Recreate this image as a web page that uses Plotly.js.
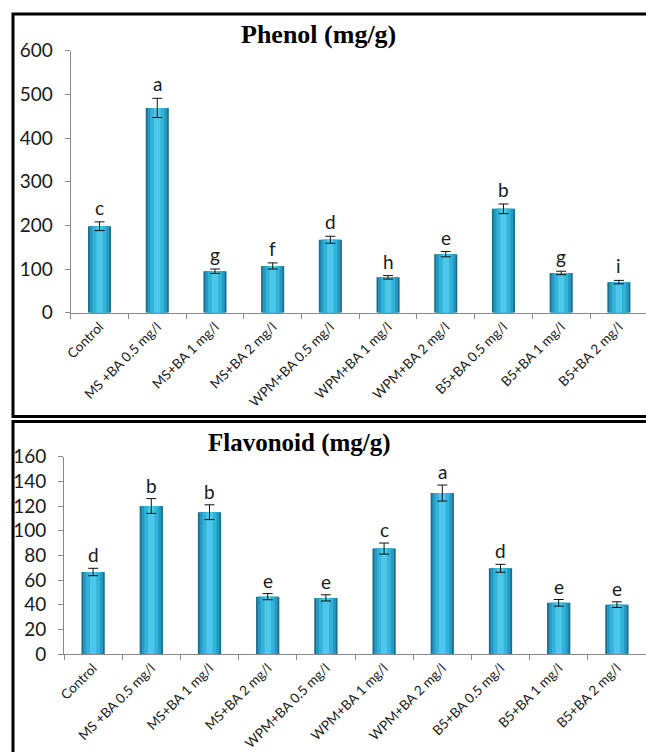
<!DOCTYPE html>
<html>
<head>
<meta charset="utf-8">
<script src="https://cdn.plot.ly/plotly-3.0.1.min.js"></script>
<style>
html,body{margin:0;padding:0;background:#fff;}
#chart{width:646px;height:752px;}
</style>
</head>
<body>
<div id="chart"></div>
<script>
// ---- data ----
const categories = ['Control','MS +BA 0.5 mg/l','MS+BA 1 mg/l','MS+BA 2 mg/l','WPM+BA 0.5 mg/l','WPM+BA 1 mg/l','WPM+BA 2 mg/l','B5+BA 0.5 mg/l','B5+BA 1 mg/l','B5+BA 2 mg/l'];
const phenol = [198, 469, 95, 107, 167, 81, 134, 238, 91, 70];
const phenolErr = [10, 22, 5, 7, 8, 4, 6, 11, 4, 4];
const phenolLetters = ['c','a','g','f','d','h','e','b','g','i'];
const flavonoid = [66.5, 120, 115, 46.5, 45.5, 85.5, 130.5, 69.5, 41.5, 40];
const flavonoidErr = [3, 6, 6, 2.5, 2.5, 4.5, 6.5, 3.2, 2.7, 2.3];
const flavonoidLetters = ['d','b','b','e','e','c','a','d','e','e'];
const titles = ['Phenol (mg/g)', 'Flavonoid (mg/g)'];

// ---- styling ----
const W = 646, H = 752;
const px = v => v / W;
const py = v => (H - v) / H;
const layers = [
  {w: 0.40, c: '#1b6f8c'},
  {w: 0.34, c: '#2599bf'},
  {w: 0.24, c: '#33b3da'},
  {w: 0.11, c: '#4cc9ea'}
];

function barTraces(vals, errs, xa, ya) {
  return layers.map((l, i) => ({
    type: 'bar', x: categories, y: vals, xaxis: xa, yaxis: ya,
    width: l.w, marker: {color: l.c, line: {width: 0}},
    hoverinfo: 'skip', showlegend: false,
    error_y: i === layers.length - 1 ? {type: 'data', array: errs, visible: true, color: '#111', thickness: 1, width: 5} : {visible: false}
  }));
}

const data = [].concat(
  barTraces(phenol, phenolErr, 'x', 'y'),
  barTraces(flavonoid, flavonoidErr, 'x2', 'y2')
);

const tickFont = {family: 'Lato, "Open Sans", sans-serif', size: 19, color: '#1a1a1a'};
const catFont = {family: 'Lato, "Open Sans", sans-serif', size: 13.5, color: '#1a1a1a'};
const letterFont = {family: 'Lato, "Open Sans", sans-serif', size: 19, color: '#1a1a1a'};
const xBase = {
  type: 'category', showline: true, linecolor: '#8a8a8a', linewidth: 1,
  ticks: 'outside', tickson: 'boundaries', ticklen: 5, tickcolor: '#8a8a8a',
  tickangle: -45, tickfont: catFont, showgrid: false, zeroline: false, fixedrange: true
};
const yBase = {
  showline: true, linecolor: '#8a8a8a', linewidth: 1,
  ticks: 'outside', ticklen: 5, tickcolor: '#8a8a8a', ticklabelstandoff: 8,
  tickfont: tickFont, showgrid: false, zeroline: false, fixedrange: true
};

const annotations = [];
categories.forEach((c, i) => {
  annotations.push({x: c, y: phenol[i] + phenolErr[i], xref: 'x', yref: 'y', text: phenolLetters[i],
    showarrow: false, yanchor: 'bottom', yshift: 1, font: letterFont});
  annotations.push({x: c, y: flavonoid[i] + flavonoidErr[i], xref: 'x2', yref: 'y2', text: flavonoidLetters[i],
    showarrow: false, yanchor: 'bottom', yshift: 0, font: letterFont});
});
annotations.push({xref: 'paper', yref: 'paper', x: px(318.5), y: py(34), text: '<b>' + titles[0] + '</b>',
  showarrow: false, xanchor: 'center', yanchor: 'middle', font: {family: '"Liberation Serif", "Times New Roman", serif', size: 26, color: '#000'}});
annotations.push({xref: 'paper', yref: 'paper', x: px(299), y: py(443), text: '<b>' + titles[1] + '</b>',
  showarrow: false, xanchor: 'center', yanchor: 'middle', font: {family: '"Liberation Serif", "Times New Roman", serif', size: 25, color: '#000'}});

const layout = {
  width: W, height: H,
  margin: {l: 0, r: 0, t: 0, b: 0, pad: 0},
  paper_bgcolor: '#fff', plot_bgcolor: 'rgba(0,0,0,0)',
  barmode: 'overlay', showlegend: false,
  xaxis: Object.assign({}, xBase, {domain: [px(70.7), 1], range: [-0.5, 9.47], anchor: 'y'}),
  yaxis: Object.assign({}, yBase, {domain: [py(312.7), py(50.7)], range: [0, 600], dtick: 100, anchor: 'x'}),
  xaxis2: Object.assign({}, xBase, {domain: [px(64), 1], range: [-0.5, 9.5], anchor: 'y2'}),
  yaxis2: Object.assign({}, yBase, {domain: [py(654), py(456.7)], range: [0, 160], dtick: 20, anchor: 'x2'}),
  annotations: annotations,
  shapes: [
    {type: 'rect', xref: 'paper', yref: 'paper', x0: px(13), x1: px(660), y0: py(416.5), y1: py(14), line: {color: '#000', width: 3}},
    {type: 'rect', xref: 'paper', yref: 'paper', x0: px(13), x1: px(660), y0: py(770), y1: py(421.5), line: {color: '#000', width: 3}}
  ]
};

Plotly.newPlot('chart', data, layout, {displayModeBar: false, staticPlot: true});
</script>
</body>
</html>
